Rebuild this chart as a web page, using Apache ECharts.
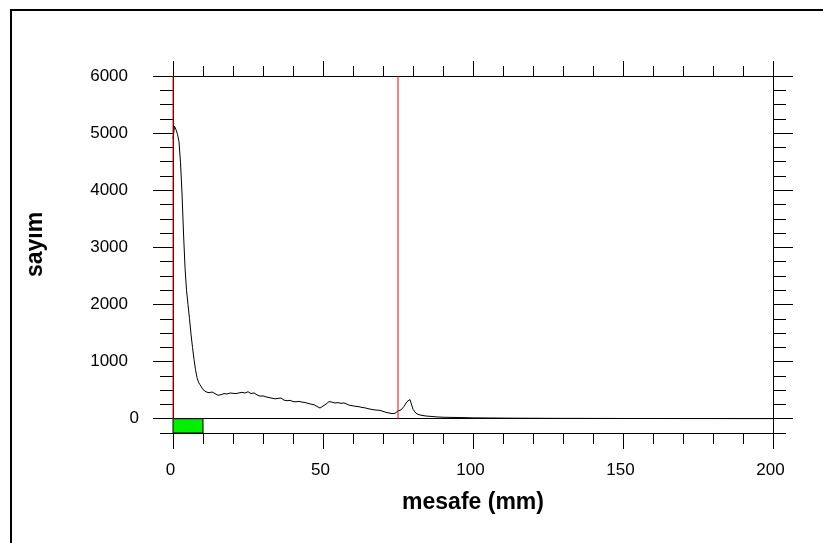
<!DOCTYPE html>
<html>
<head>
<meta charset="utf-8">
<script src="https://cdn.jsdelivr.net/npm/echarts@6/dist/echarts.min.js"></script>
<style>
  html, body { margin: 0; padding: 0; background: #fff; }
  #chart { width: 823px; height: 543px; }
</style>
</head>
<body>
<div id="chart"></div>
<script>
// mesafe (mm)
var mesafe = [0, 0.5, 1, 1.5, 2, 2.5, 3, 3.5, 4, 4.5, 5, 5.5, 6, 6.5, 7, 7.5, 8, 8.5, 9, 9.5, 10,
    11, 12, 13, 14, 15, 16, 17, 18, 19, 20, 21, 22, 23, 24, 25, 26, 27, 28, 29, 30,
    31, 32, 33, 34, 35, 36, 37, 38, 39, 40, 41, 42, 43, 44, 45, 46, 47, 48, 49, 50,
    51, 52, 53, 54, 55, 56, 57, 58, 59, 60, 61, 62, 63, 64, 65, 66, 67, 68, 69, 70,
    71, 72, 73, 74, 75, 76, 77, 78, 79, 80, 81, 82, 83, 84, 85, 86, 87, 88, 89, 90,
    92, 94, 96, 98, 100, 105, 110, 115, 120, 125, 130, 135, 140, 145, 150, 160, 170, 180, 190, 200];
// sayim
var sayim = [4900, 5120, 5060, 4980, 4850, 4480, 3950, 3250, 2650, 2250, 2000, 1750, 1480, 1250, 1040, 860, 720, 640, 595, 560, 510,
    470, 455, 468, 440, 410, 420, 440, 432, 450, 445, 440, 452, 462, 450, 472, 440, 452, 418, 395, 400,
    382, 370, 360, 348, 356, 362, 325, 315, 322, 300, 296, 304, 290, 285, 268, 255, 246, 215, 187, 222,
    255, 300, 290, 275, 282, 270, 276, 255, 232, 225, 216, 210, 198, 190, 176, 165, 156, 150, 146, 128,
    112, 100, 90, 95, 135, 155, 215, 300, 335, 165, 95, 70, 58, 50, 44, 40, 36, 31, 29, 26,
    24, 22, 20, 18, 15, 13, 11, 9, 8, 7, 6, 6, 5, 5, 4, 4, 3, 3, 2, 2];

var yMajor = [0, 1000, 2000, 3000, 4000, 5000, 6000];
var yMinor = [-250, 0, 250, 500, 750, 1000, 1250, 1500, 1750, 2000, 2250, 2500, 2750, 3000, 3250, 3500, 3750,
    4000, 4250, 4500, 4750, 5000, 5250, 5500, 5750, 6000];
var yLabels = [1000, 2000, 3000, 4000, 5000, 6000];
var yZeroLabel = [0];
var kirmiziCizgiler = [0, 75];   // red markers (mm)
var yesilKutu = [0, 10];         // green box (mm)

var font = "'Liberation Sans', Arial, sans-serif";
var data = mesafe.map(function (x, i) { return [x, sayim[i]]; });

function yAx(pos, line, tickVals, tickLen, labelVals, margin) {
    return {
        type: 'value', position: pos, min: -250, max: 6000,
        axisLine: { show: line, onZero: false, lineStyle: { color: '#000', width: 1 } },
        axisTick: { show: true, inside: false, length: tickLen, customValues: tickVals,
            lineStyle: { color: '#000', width: 1 } },
        axisLabel: { show: !!labelVals, customValues: labelVals || [], margin: margin || 8,
            formatter: function (v) { return String(v); },
            color: '#000', fontSize: 17, fontFamily: font },
        splitLine: { show: false }
    };
}
function xAx(pos, major, minor, showLabel) {
    return {
        type: 'value', position: pos, min: 0, max: 200, interval: 50,
        axisLine: { show: true, onZero: false, lineStyle: { color: '#000', width: 1 } },
        axisTick: { show: true, length: major, lineStyle: { color: '#000', width: 1 } },
        minorTick: { show: true, splitNumber: 5, length: minor, lineStyle: { color: '#000', width: 1 } },
        axisLabel: { show: showLabel, margin: 29, color: '#000', fontSize: 17, fontFamily: font,
            formatter: function (v) { return String(v); }, padding: [0, 5, 0, 0] },
        splitLine: { show: false }
    };
}

var myChart = echarts.init(document.getElementById('chart'));
var xBottom = xAx('bottom', 16, 11, true);
xBottom.name = 'mesafe (mm)';
xBottom.nameLocation = 'middle';
xBottom.nameGap = 58;
xBottom.nameTextStyle = { color: '#000', fontSize: 23, fontWeight: 'bold', fontFamily: font };
var yLeft = yAx('left', true, yMajor, 20, yLabels, 45);
yLeft.name = 'sayım';
yLeft.nameLocation = 'middle';
yLeft.nameGap = 126;
yLeft.nameTextStyle = { color: '#000', fontSize: 23, fontWeight: 'bold', fontFamily: font,
    padding: [0, 0, 0, 20] };

var series = [{
    type: 'line',
    xAxisIndex: 0, yAxisIndex: 0,
    data: data,
    showSymbol: false,
    clip: false,
    z: 5,
    lineStyle: { color: '#000', width: 1 },
    markLine: {
        silent: true, symbol: ['none', 'none'], label: { show: false },
        lineStyle: { color: '#000', width: 1, type: 'solid' },
        data: [[{ coord: [0, 0] }, { coord: [200, 0] }]]
    },
    markArea: {
        silent: true,
        itemStyle: { color: '#00f000', borderColor: '#000', borderWidth: 1 },
        data: [[{ coord: [yesilKutu[0], 0] }, { coord: [yesilKutu[1], -250] }]]
    }
}];
kirmiziCizgiler.forEach(function (x) {
    series.push({
        type: 'line', xAxisIndex: 0, yAxisIndex: 0, z: 6, clip: false,
        showSymbol: false, silent: true,
        data: [[x, 0], [x, 6000]],
        lineStyle: { color: '#ff0000', width: 1 }
    });
});

option = {
    animation: false,
    backgroundColor: '#fff',
    grid: { left: 173, top: 76, width: 600, height: 357, containLabel: false },
    graphic: [{
        type: 'rect', shape: { x: 11, y: 10, width: 1000, height: 1000 },
        style: { fill: 'none', stroke: '#000', lineWidth: 2 }, silent: true
    }],
    xAxis: [xBottom, xAx('top', 15, 10, false)],
    yAxis: [
        yLeft,
        yAx('left', false, yMinor, 13, yZeroLabel, 34),
        yAx('right', true, yMajor, 20, null),
        yAx('right', false, yMinor, 13, null)
    ],
    series: series
};
myChart.setOption(option, true);
</script>
</body>
</html>
